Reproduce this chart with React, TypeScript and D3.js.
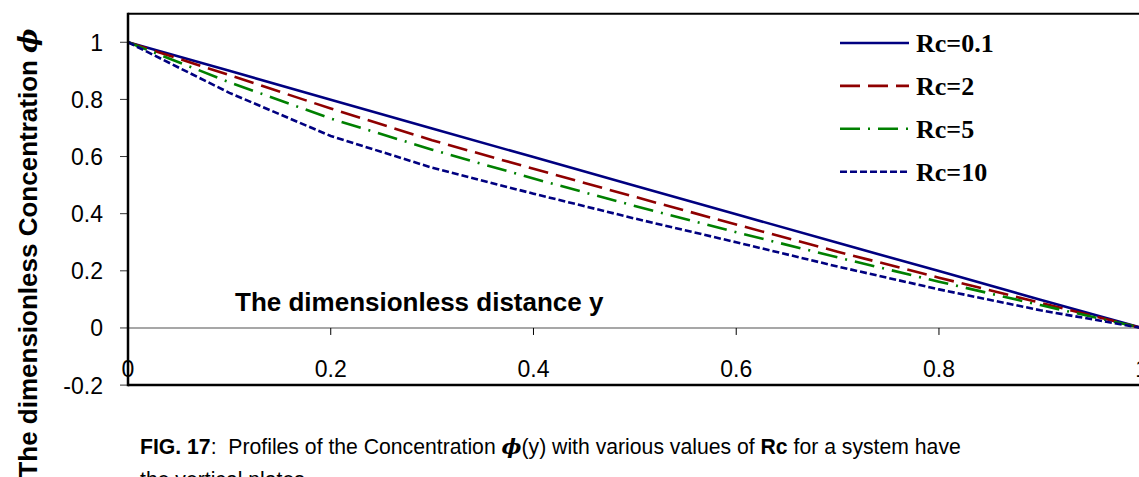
import React from "react";
import * as d3 from "d3";

const xValues = [0, 0.1, 0.2, 0.3, 0.4, 0.5, 0.6, 0.7, 0.8, 0.9, 1.0];
const rc01 = [1, 0.9, 0.799, 0.698, 0.598, 0.498, 0.398, 0.298, 0.199, 0.099, 0];
const rc2 = [1, 0.885, 0.768, 0.657, 0.557, 0.459, 0.362, 0.267, 0.176, 0.088, 0];
const rc5 = [1, 0.86, 0.733, 0.624, 0.523, 0.427, 0.335, 0.247, 0.162, 0.08, 0];
const rc10 = [1, 0.823, 0.672, 0.561, 0.47, 0.383, 0.3, 0.215, 0.135, 0.062, 0];

const seriesNames = ["Rc=0.1", "Rc=2", "Rc=5", "Rc=10"];
const xTicks = [0, 0.2, 0.4, 0.6, 0.8, 1];
const xTickLabels = ["0", "0.2", "0.4", "0.6", "0.8", "1"];
const yTicks = [-0.2, 0, 0.2, 0.4, 0.6, 0.8, 1];
const yTickLabels = ["-0.2", "0", "0.2", "0.4", "0.6", "0.8", "1"];

const styles = [
  { color: "#000080", dash: "none" },
  { color: "#8f0000", dash: "20 8" },
  { color: "#008000", dash: "20 8 2 8" },
  { color: "#000080", dash: "7 3" },
];

export default function App() {
  const W = 1139;
  const H = 477;
  const left = 128;
  const right = 1141.7;
  const top = 13.7;
  const bottom = 385.1;

  const x = d3.scaleLinear().domain([0, 1]).range([left, right]);
  const y = d3.scaleLinear().domain([-0.2, 1.1]).range([bottom, top]);

  const allSeries = [rc01, rc2, rc5, rc10];
  const line = d3
    .line<number>()
    .x((_, i) => x(xValues[i]))
    .y((d) => y(d))
    .curve(d3.curveLinear);

  const sans = "Arial, 'Liberation Sans', Helvetica, sans-serif";
  const serif = "'Liberation Serif', 'Times New Roman', serif";

  const legendX1 = 840;
  const legendX2 = 909;
  const legendTextX = 916;
  const legendY0 = 43;
  const legendStep = 42.9;

  return (
    <svg
      width={W}
      height={H}
      style={{ position: "absolute", left: 0, top: 0, background: "#fff" }}
      xmlns="http://www.w3.org/2000/svg"
    >
      <rect x={0} y={0} width={W} height={H} fill="#fff" />

      {/* zero line */}
      <line x1={left} x2={W + 5} y1={y(0)} y2={y(0)} stroke="#8a8a8a" strokeWidth={1.5} />

      {/* x ticks on zero line */}
      {xTicks.map((t, i) => (
        <line key={"xt" + i} x1={x(t)} x2={x(t)} y1={y(0)} y2={y(0) + 7} stroke="#000" strokeWidth={1} />
      ))}

      {/* y ticks */}
      {yTicks.map((t, i) => (
        <line key={"yt" + i} x1={left - 8} x2={left} y1={y(t)} y2={y(t)} stroke="#333" strokeWidth={1} />
      ))}

      {/* series */}
      {allSeries.map((s, i) => (
        <path
          key={"s" + i}
          d={line(s) || ""}
          fill="none"
          stroke={styles[i].color}
          strokeWidth={2.6}
          strokeDasharray={styles[i].dash}
          strokeLinecap="butt"
        />
      ))}

      {/* frame */}
      <line x1={left} x2={W + 5} y1={top} y2={top} stroke="#000" strokeWidth={2} />
      <line x1={left} x2={W + 5} y1={bottom} y2={bottom} stroke="#000" strokeWidth={2.5} />
      <line x1={left} x2={left} y1={top - 1} y2={bottom + 1.2} stroke="#000" strokeWidth={2.5} />
      <line x1={right} x2={right} y1={top} y2={bottom} stroke="#000" strokeWidth={2.5} />

      {/* y tick labels */}
      {yTicks.map((t, i) => (
        <text
          key={"yl" + i}
          x={103}
          y={y(t) + 8.5}
          textAnchor="end"
          fontFamily={sans}
          fontSize={23}
          fill="#000"
        >
          {yTickLabels[i]}
        </text>
      ))}

      {/* x tick labels */}
      {xTicks.map((t, i) => (
        <text
          key={"xl" + i}
          x={x(t)}
          y={376.5}
          textAnchor="middle"
          fontFamily={sans}
          fontSize={23}
          fill="#000"
        >
          {xTickLabels[i]}
        </text>
      ))}

      {/* x axis title (inside plot) */}
      <text x={235} y={310.5} fontFamily={sans} fontSize={26} fontWeight="bold" fill="#000">
        The dimensionless distance y
      </text>

      {/* y axis title */}
      <text
        transform={`translate(37, 253) rotate(-90)`}
        textAnchor="middle"
        fontFamily={sans}
        fontSize={26}
        fontWeight="bold"
        fill="#000"
      >
        The dimensionless Concentration{" "}
        <tspan fontFamily="'DejaVu Serif', serif" fontStyle="italic">
          ϕ
        </tspan>
      </text>

      {/* legend */}
      {seriesNames.map((n, i) => (
        <g key={"lg" + i}>
          <line
            x1={legendX1}
            x2={legendX2}
            y1={legendY0 + i * legendStep}
            y2={legendY0 + i * legendStep}
            stroke={styles[i].color}
            strokeWidth={2.6}
            strokeDasharray={styles[i].dash}
          />
          <text
            x={legendTextX}
            y={legendY0 + i * legendStep + 9.3}
            fontFamily={serif}
            fontSize={26}
            fontWeight="bold"
            fill="#000"
          >
            {n}
          </text>
        </g>
      ))}

      {/* caption */}
      <text x={140} y={454} fontFamily={sans} fontSize={21.2} fill="#000">
        <tspan fontWeight="bold">FIG. 17</tspan>
        <tspan>{":\u00a0 Profiles of the Concentration "}</tspan>
        <tspan fontFamily="'DejaVu Serif', serif" fontStyle="italic" fontWeight="bold">
          ϕ
        </tspan>
        <tspan>{"(y) with various values of "}</tspan>
        <tspan fontWeight="bold">Rc</tspan>
        <tspan>{" for a system have"}</tspan>
      </text>
      <text x={140} y={487} fontFamily={sans} fontSize={21.2} fill="#000">
        the vertical plates
      </text>
    </svg>
  );
}
